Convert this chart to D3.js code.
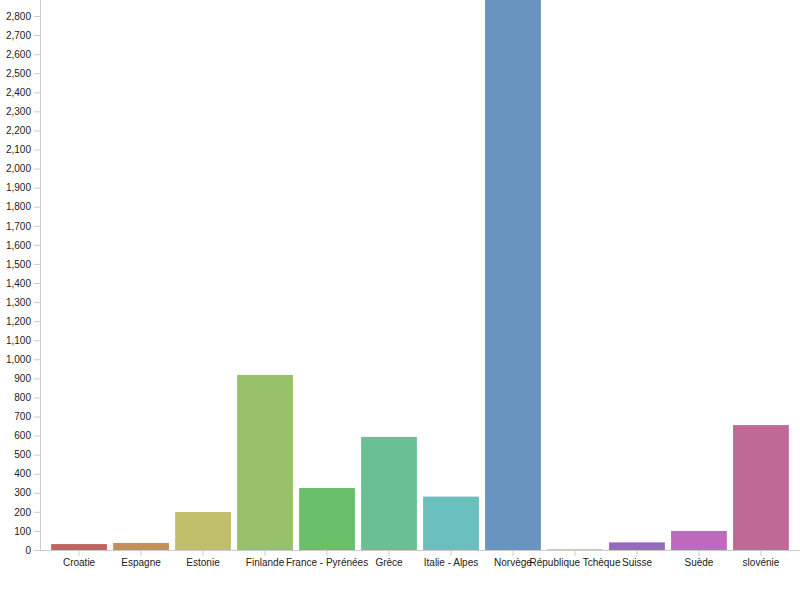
<!DOCTYPE html>
<html>
<head>
<meta charset="utf-8">
<script src="https://cdn.jsdelivr.net/npm/d3@7"></script>
<style>
  html, body { margin: 0; padding: 0; background: #fff; }
  svg { display: block; }
  .axis text { font-family: "Liberation Sans", Arial, sans-serif; font-size: 10px; fill: #222; }
  .axis path, .axis line { stroke: #ccc; }
</style>
</head>
<body>
<svg id="chart" width="800" height="600"></svg>
<script>
const categories = ["Croatie", "Espagne", "Estonie", "Finlande", "France - Pyrénées", "Grèce",
  "Italie - Alpes", "Norvège", "République Tchèque", "Suisse", "Suède", "slovénie"];
const values = [31, 37, 199, 918, 325, 593, 280, 2884, 2, 40, 100, 655];
const colors = ["#c0625f", "#c0915f", "#c0c06a", "#96c06a", "#6abf6a", "#6abf94",
  "#6abfbf", "#6894bf", "#6a6abf", "#946abf", "#bf6abf", "#bf6a94"];

(function () {
  const svg = d3.select("#chart");
  const mLeft = 40, mRight = 800, mTop = 0, mBottom = 550;

  const x = d3.scaleBand().domain(categories).range([mLeft, mRight])
    .paddingInner(0.1).paddingOuter(0.18);
  const y = d3.scaleLinear().domain([0, d3.max(values)]).range([mBottom, mTop]);

  svg.append("g").selectAll("rect")
    .data(categories)
    .join("rect")
    .attr("x", d => x(d))
    .attr("width", x.bandwidth())
    .attr("y", (d, i) => y(values[i]))
    .attr("height", (d, i) => mBottom - y(values[i]))
    .attr("fill", (d, i) => colors[i]);

  svg.append("g").attr("class", "axis")
    .attr("transform", `translate(${mLeft},0)`)
    .call(d3.axisLeft(y).ticks(28).tickSize(6).tickSizeOuter(0).tickFormat(d3.format(",")))
    .call(g => g.select(".domain").attr("d", `M0.5,${mTop}V${mBottom}`));

  svg.append("g").attr("class", "axis")
    .attr("transform", `translate(0,${mBottom})`)
    .call(d3.axisBottom(x).tickSize(6).tickSizeOuter(0))
    .call(g => g.select(".domain").attr("d", `M${mLeft},0.5H${mRight}`));
})();
</script>
</body>
</html>
